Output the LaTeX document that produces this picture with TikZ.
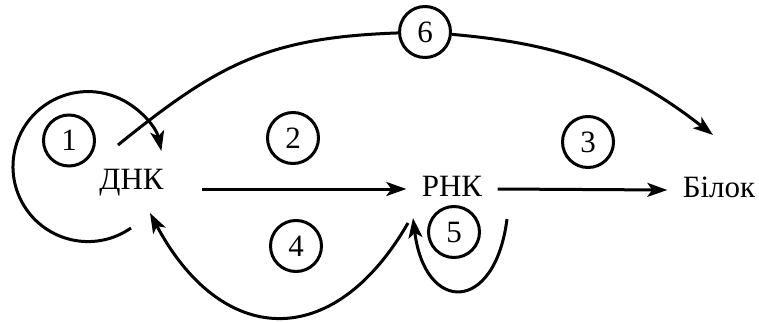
\documentclass[tikz,border=0pt]{standalone}
\usepackage{fontspec}
\setmainfont{Liberation Serif}
\usetikzlibrary{arrows.meta}
\tikzset{
  term/.style={inner sep=7pt, text height=0.7em, text depth=0pt, anchor=base},
  num/.style={draw, circle, minimum size=25.5pt, inner sep=0pt},
  arr/.style={-{Stealth[length=10pt,width=7pt,inset=2.5pt]}},
}
\begin{document}
\begin{tikzpicture}[x=0.5pt,y=0.5pt,line width=1.5pt,font=\rmfamily\fontsize{15.5}{18}\selectfont]
            \useasboundingbox (0,0) rectangle (759,322);
            % Terms
            \node[term] (dna) at (131.5,133) {ДНК};
            \node[term] (rna) at (452,126) {РНК};
            \node[term] (prot) at (719,125) {Білок};

            % Numbered circles
            \node[num] (n1) at (69,181.5) {1};
            \node[num] (n2) at (293,184) {2};
            \node[num] (n3) at (588,180) {3};
            \node[num] (n4) at (296,76) {4};
            \node[num] (n5) at (454,90) {5};
            \node[num] (n6) at (425,290) {6};

            % Free ends of the curved arrows
            \coordinate (a1) at (131,94);
            \coordinate (a4) at (408,99);
            \coordinate (b4) at (150,109);
            \coordinate (a5) at (507,103);
            \coordinate (b5) at (413,104);
            \coordinate (a6) at (118,177);
            \coordinate (b6) at (713,187);

            % Straight arrows
            \draw[arr, shorten <=11.5pt] (dna.east |- rna.west) -- (rna.west);
            \draw[arr] (rna.east) -- (prot.west);

            % Curved arrows
            \draw[arr] (a1) arc[start angle=-55, end angle=-348, radius=75];
            \draw[arr] (a4) .. controls (332.5,-31.8) and (220.8,-24.3) .. (b4);
            \draw[arr] (a5) .. controls (495,8) and (425,8) .. (b5);
            \draw (a6) to[out=39,in=182,looseness=1.1] (n6);
            \draw[arr] (n6) to[out=-5,in=142] (b6);
\end{tikzpicture}
\end{document}
